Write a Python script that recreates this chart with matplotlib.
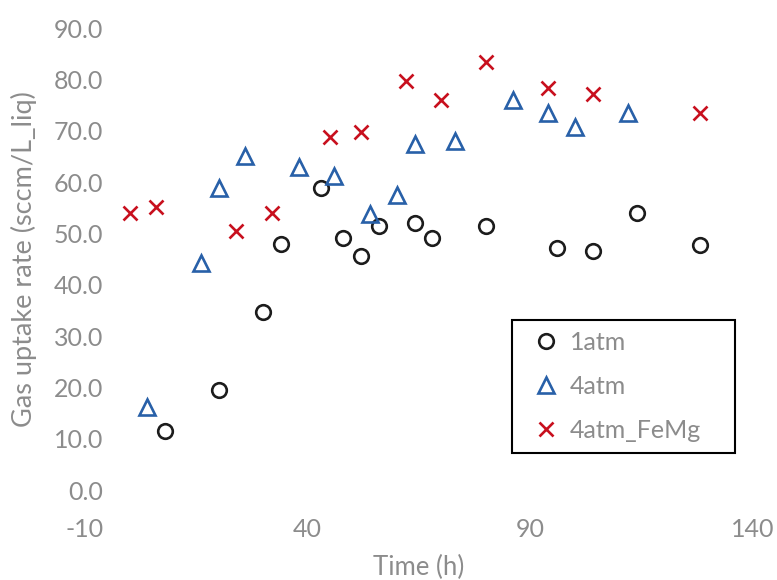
import matplotlib.pyplot as plt

# readings from the uptake runs
time_1atm = [8, 20, 30, 34, 43, 48, 52, 56, 64, 68, 80, 96, 104, 114, 128]
rate_1atm = [11.5, 19.5, 34.6, 47.9, 58.8, 49.1, 45.5, 51.5, 52.1, 49.1, 51.5, 47.1, 46.6, 53.9, 47.8]

time_4atm = [4, 16, 20, 26, 38, 46, 54, 60, 64, 73, 86, 94, 100, 112]
rate_4atm = [16.2, 44.2, 58.8, 65.0, 63.0, 61.1, 53.8, 57.5, 67.4, 68.0, 75.9, 73.4, 70.8, 73.4]

time_femg = [0, 6, 24, 32, 45, 52, 62, 70, 80, 94, 104, 128]
rate_femg = [53.9, 55.2, 50.4, 53.9, 68.8, 69.8, 79.6, 76.0, 83.4, 78.4, 77.1, 73.4]

x_ticks = [-10, 40, 90, 140]
y_ticks = [0, 10, 20, 30, 40, 50, 60, 70, 80, 90]

GREY = "#8c8c8c"

plt.rcParams["font.family"] = ["Lato", "DejaVu Sans"]
plt.rcParams["axes.unicode_minus"] = False

fig = plt.figure(figsize=(7.77, 5.8), dpi=100)
ax = fig.add_axes([85 / 777, 1 - 490 / 580, (753 - 85) / 777, (490 - 28) / 580])

ax.plot(time_1atm, rate_1atm, "o", ms=10.5, mfc="none", mec="#1c1c1c", mew=1.9,
        label="1atm", clip_on=False)
ax.plot(time_4atm, rate_4atm, "^", ms=11, mfc="none", mec="#2860a8", mew=1.9,
        label="4atm", clip_on=False)
ax.plot(time_femg, rate_femg, "x", ms=10, mec="#c8101e", mew=1.9,
        label="4atm_FeMg", clip_on=False)

ax.set_xlim(-10, 140)
ax.set_ylim(0, 90)
ax.set_xticks(x_ticks)
ax.set_yticks(y_ticks)
ax.set_yticklabels([f"{v:.1f}" for v in y_ticks])

for s in ax.spines.values():
    s.set_visible(False)
ax.tick_params(length=0, labelsize=18, labelcolor=GREY)
ax.tick_params(axis="x", pad=20)
ax.tick_params(axis="y", pad=-13)

ax.set_xlabel("Time (h)", fontsize=18.5, color=GREY)
ax.xaxis.set_label_coords(0.5, -0.14)
ax.set_ylabel("Gas uptake rate (sccm/L_liq)", fontsize=19.5, color=GREY)
ax.yaxis.set_label_coords(-0.072, 0.5)

leg = ax.legend(loc="upper left",
                bbox_to_anchor=(512 / 777, 1 - 449 / 580, 223 / 777, 129 / 580),
                bbox_transform=fig.transFigure, mode="expand", fontsize=18,
                numpoints=1, frameon=True, fancybox=False, borderpad=0.42,
                labelspacing=0.85, handlelength=1.9, handletextpad=0.0,
                borderaxespad=0)
for t in leg.get_texts():
    t.set_color(GREY)
leg.get_frame().set_edgecolor("black")
leg.get_frame().set_linewidth(1.5)
leg.get_frame().set_alpha(1)

fig.savefig("out.png", dpi=100)
